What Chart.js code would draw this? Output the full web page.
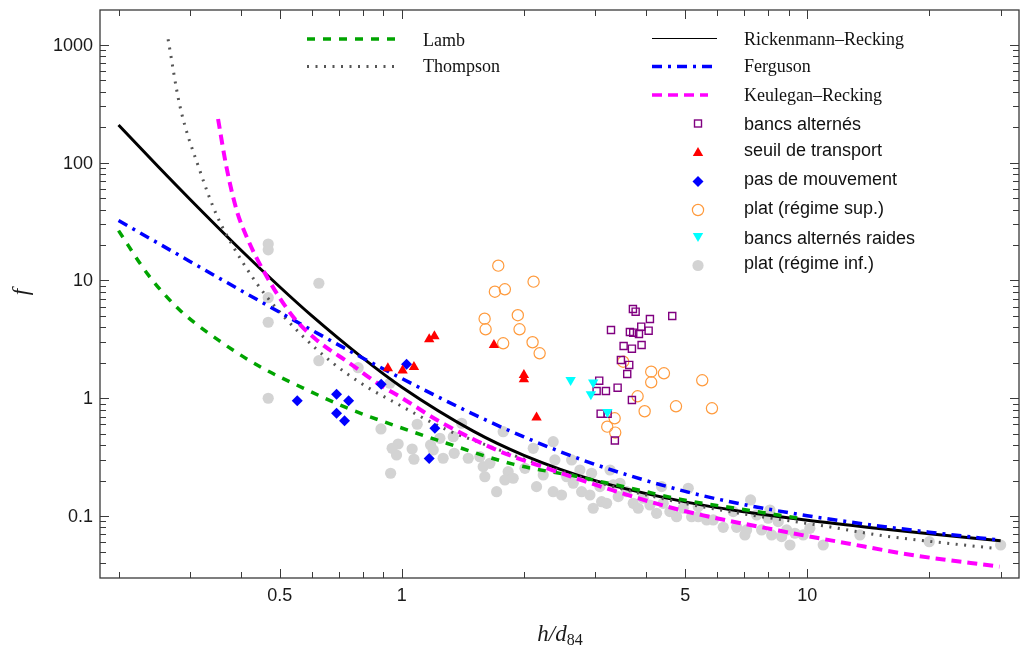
<!DOCTYPE html>
<html>
<head>
<meta charset="utf-8">
<script src="https://cdn.jsdelivr.net/npm/chart.js@4.4.0/dist/chart.umd.min.js"></script>
<style>
  html, body { margin: 0; padding: 0; background: #ffffff; }
  #wrap { width: 1020px; height: 650px; position: relative; }
  canvas { display: block; }
</style>
</head>
<body>
<div id="wrap"><canvas id="c" width="1020" height="650"></canvas></div>
<script>
// ---------- curves (h/d84 -> f) ----------
const rrX   = [0.2, 0.25, 0.3, 0.4, 0.5, 0.6, 0.8, 1, 1.5, 2, 3, 5, 7, 10, 15, 20, 30];
const rrY   = [209, 93.3, 49.0, 18.25, 8.80, 5.00, 2.20, 1.24, 0.526, 0.328, 0.200, 0.132, 0.1086, 0.0920, 0.0785, 0.0708, 0.0618];
const fgX   = [0.2, 0.25, 0.3, 0.4, 0.5, 0.6, 0.8, 1, 1.5, 2, 3, 5, 7, 10, 15, 20, 30];
const fgY   = [32.3, 20.8, 14.5, 8.26, 5.36, 3.78, 2.20, 1.47, 0.734, 0.470, 0.274, 0.162, 0.125, 0.1007, 0.0825, 0.0730, 0.0624];
const lambX = [0.2, 0.237, 0.283, 0.352, 0.446, 0.571, 0.737, 0.952, 1.29, 1.88, 2.75, 4.0, 4.85, 7.09, 9.85];
const lambY = [26.5, 11.1, 5.62, 3.13, 1.86, 1.22, 0.82, 0.593, 0.415, 0.276, 0.214, 0.161, 0.139, 0.1126, 0.094];
const thX   = [0.265, 0.283, 0.318, 0.349, 0.3835, 0.4217, 0.464, 0.56, 0.677, 0.818, 0.95, 1.29, 1.557, 2.03, 3.32, 5, 7, 11, 15.4, 20.5, 29.5];
const thY   = [1115, 310, 84, 36, 19.4, 11.5, 7.29, 3.56, 1.98, 1.254, 0.94, 0.54, 0.42, 0.30, 0.178, 0.128, 0.104, 0.0824, 0.068, 0.0605, 0.053];
const krX   = [0.352, 0.369, 0.391, 0.414, 0.464, 0.539, 0.616, 0.744, 0.882, 0.989, 1.241, 1.712, 2.275, 3.32, 4.85, 8.56, 12.5, 18.3, 29.8];
const krY   = [235, 92.5, 39.7, 23.5, 10.8, 4.93, 3.13, 1.98, 1.30, 1.03, 0.633, 0.364, 0.255, 0.165, 0.1127, 0.075, 0.0588, 0.0465, 0.0372];

// ---------- measured points ----------
const baX = [3.715, 3.773, 4.092, 4.645, 3.28, 3.652, 3.722, 3.845, 3.895, 4.062, 3.524, 3.694, 3.903, 3.47, 3.638, 3.597, 3.068, 3.023, 3.187, 3.406, 3.694, 3.093, 3.218, 3.353];
const baY = [5.73, 5.435, 4.71, 4.995, 3.80, 3.655, 3.606, 3.515, 4.054, 3.749, 2.78, 2.636, 2.835, 2.114, 1.918, 1.608, 1.411, 1.153, 1.153, 1.23, 0.967, 0.74, 0.74, 0.438];
const stX = [0.9235, 1.004, 1.071, 1.168, 1.203, 1.687, 2.0, 2.0, 2.149];
const stY = [1.798, 1.722, 1.844, 3.168, 3.36, 2.835, 1.577, 1.45, 0.687];
const pmX = [0.552, 0.690, 0.739, 0.690, 0.722, 1.027, 0.889, 1.206, 1.168];
const pmY = [0.954, 1.081, 0.954, 0.746, 0.645, 1.944, 1.317, 0.556, 0.308];
const psX = [1.729, 2.113, 1.696, 1.795, 1.600, 1.932, 1.609, 1.951, 1.778, 2.101, 2.187, 3.516, 4.122, 4.431, 4.122, 5.508, 3.815, 4.745, 5.821, 3.971, 3.349, 3.211, 3.36];
const psY = [13.36, 9.77, 8.03, 8.42, 4.74, 5.07, 3.85, 3.85, 2.93, 2.99, 2.41, 2.045, 1.682, 1.63, 1.367, 1.422, 1.04, 0.855, 0.822, 0.776, 0.676, 0.574, 0.511];
const brX = [2.608, 2.965, 2.926, 3.214];
const brY = [1.43, 1.362, 1.083, 0.765];
const piX = [0.468, 0.468, 0.624, 0.468, 0.468, 0.624, 0.468, 0.780, 0.934, 0.888, 1.091, 0.979, 0.946, 0.970, 1.060, 1.071, 0.938, 1.177, 1.241, 1.339,
             1.404, 1.346, 1.264, 1.458, 1.195, 1.557, 1.587, 1.649, 1.602, 1.713, 1.778, 1.829, 1.795, 1.882, 2.012, 2.109, 2.149, 2.232, 2.362, 2.385,
             2.362, 2.477, 2.55, 2.623, 2.647, 2.749, 2.776, 2.91, 2.938, 2.965, 3.08, 3.11, 3.20, 3.262, 3.322, 3.451, 3.418, 3.584, 3.722, 3.828,
             3.94, 4.092, 4.25, 4.373, 4.412, 4.583, 4.761, 4.943, 5.087, 5.186, 5.384, 5.384, 5.647, 5.863, 6.205, 6.568, 6.697, 7.087, 7.019, 7.249,
             7.502, 7.718, 8.013, 8.091, 8.17, 8.483, 8.647, 8.897, 9.065, 9.327, 9.775, 10.15, 10.95, 13.49, 20.0, 30.0];
const piY = [20.4, 18.2, 9.47, 7.14, 4.42, 2.085, 1.0, 1.819, 1.341, 0.549, 0.602, 0.409, 0.376, 0.330, 0.371, 0.3035, 0.231, 0.4015, 0.4575, 0.472,
             0.614, 0.341, 0.3095, 0.3095, 0.364, 0.319, 0.2627, 0.2806, 0.216, 0.161, 0.5205, 0.238, 0.2025, 0.2094, 0.2545, 0.376, 0.1777, 0.2234, 0.428, 0.2995,
             0.161, 0.151, 0.216, 0.2995, 0.19, 0.246, 0.161, 0.151, 0.231, 0.1165, 0.1777, 0.1325, 0.1284, 0.246, 0.1837, 0.19, 0.1462, 0.161, 0.1284, 0.1165,
             0.1416, 0.1242, 0.1056, 0.1777, 0.1284, 0.109, 0.0988, 0.1165, 0.172, 0.0988, 0.1202, 0.0988, 0.0927, 0.0927, 0.0803, 0.109, 0.0803, 0.0762, 0.0691, 0.137,
             0.1022, 0.0762, 0.0958, 0.1126, 0.0691, 0.0897, 0.0669, 0.0762, 0.0568, 0.0715, 0.0691, 0.0787, 0.0568, 0.0691, 0.0606, 0.0568];

// ---------- ticks & labels ----------
const xMajorTicks = [0.5, 1, 5, 10];
const xTickLabels = ['0.5', '1', '5', '10'];
const xMinorTicks = [0.2, 0.3, 0.4, 0.6, 0.7, 0.8, 0.9, 2, 3, 4, 6, 7, 8, 9, 20, 30];
const yMajorTicks = [0.1, 1, 10, 100, 1000];
const yTickLabels = ['0.1', '1', '10', '100', '1000'];
const yMinorTicks = [0.04, 0.05, 0.06, 0.07, 0.08, 0.09, 0.2, 0.3, 0.4, 0.5, 0.6, 0.7, 0.8, 0.9,
                     2, 3, 4, 5, 6, 7, 8, 9, 20, 30, 40, 50, 60, 70, 80, 90, 200, 300, 400, 500, 600, 700, 800, 900];
const lineLabels = ['Lamb', 'Thompson', 'Rickenmann–Recking', 'Ferguson', 'Keulegan–Recking'];
const markerLabels = ['bancs alternés', 'seuil de transport', 'pas de mouvement', 'plat (régime sup.)', 'bancs alternés raides', 'plat (régime inf.)'];

const pts = (xs, ys) => xs.map((v, i) => ({ x: v, y: ys[i] }));

const C = {
  lamb: '#00a400', thompson: '#555555', rr: '#000000', ferg: '#0000ff', keul: '#ff00ff',
  purple: '#800080', red: '#ff0000', blue: '#0000ff', orange: '#ff9a3c', cyan: '#00ffff', gray: '#d3d3d3'
};
const lineStyle = {
  lamb: { color: C.lamb, width: 3.5, dash: [8, 8] },
  thompson: { color: C.thompson, width: 3, dash: [2, 6.5] },
  rr: { color: C.rr, width: 3, dash: [] },
  ferg: { color: C.ferg, width: 3.5, dash: [10, 6, 3, 6] },
  keul: { color: C.keul, width: 4, dash: [10, 6] }
};

function lineDS(label, xs, ys, st, order) {
  return {
    label, data: pts(xs, ys), showLine: true, borderColor: st.color, borderWidth: st.width,
    borderDash: st.dash, pointRadius: 0, cubicInterpolationMode: 'monotone', fill: false, order
  };
}

const datasets = [
  { label: markerLabels[5], data: pts(piX, piY), pointStyle: 'circle', pointRadius: 5.6, backgroundColor: C.gray, borderWidth: 0, order: 20 },
  lineDS(lineLabels[0], lambX, lambY, lineStyle.lamb, 10),
  lineDS(lineLabels[1], thX, thY, lineStyle.thompson, 11),
  lineDS(lineLabels[2], rrX, rrY, lineStyle.rr, 12),
  lineDS(lineLabels[3], fgX, fgY, lineStyle.ferg, 9),
  lineDS(lineLabels[4], krX, krY, lineStyle.keul, 8),
  { label: markerLabels[0], data: pts(baX, baY), pointStyle: 'rect', pointRadius: 5, backgroundColor: 'rgba(0,0,0,0)', borderColor: C.purple, borderWidth: 1.4, order: 3 },
  { label: markerLabels[1], data: pts(stX, stY), pointStyle: 'triangle', pointRadius: 6, backgroundColor: C.red, borderColor: C.red, borderWidth: 0, order: 2 },
  { label: markerLabels[2], data: pts(pmX, pmY), pointStyle: 'rectRot', pointRadius: 5.5, backgroundColor: C.blue, borderColor: C.blue, borderWidth: 0, order: 2 },
  { label: markerLabels[3], data: pts(psX, psY), pointStyle: 'circle', pointRadius: 5.6, backgroundColor: 'rgba(0,0,0,0)', borderColor: C.orange, borderWidth: 1.2, order: 4 },
  { label: markerLabels[4], data: pts(brX, brY), pointStyle: 'triangle', pointRotation: 180, pointRadius: 6, backgroundColor: C.cyan, borderColor: C.cyan, borderWidth: 0, order: 1 }
];

function drawMarker(ctx, kind, x, y) {
  ctx.save();
  ctx.setLineDash([]);
  if (kind === 0) { ctx.strokeStyle = C.purple; ctx.lineWidth = 1.4; ctx.strokeRect(x - 3.5, y - 3.5, 7, 7); }
  else if (kind === 1) { ctx.fillStyle = C.red; ctx.beginPath(); const r = 6, cy = y + 1.5; ctx.moveTo(x, cy - r); ctx.lineTo(x + r * 0.866, cy + r / 2); ctx.lineTo(x - r * 0.866, cy + r / 2); ctx.closePath(); ctx.fill(); }
  else if (kind === 2) { ctx.fillStyle = C.blue; ctx.beginPath(); const r = 5.5; ctx.moveTo(x, y - r); ctx.lineTo(x + r, y); ctx.lineTo(x, y + r); ctx.lineTo(x - r, y); ctx.closePath(); ctx.fill(); }
  else if (kind === 3) { ctx.strokeStyle = C.orange; ctx.lineWidth = 1.2; ctx.beginPath(); ctx.arc(x, y, 5.6, 0, Math.PI * 2); ctx.stroke(); }
  else if (kind === 4) { ctx.fillStyle = C.cyan; ctx.beginPath(); const r = 6, cy = y - 1.5; ctx.moveTo(x, cy + r); ctx.lineTo(x + r * 0.866, cy - r / 2); ctx.lineTo(x - r * 0.866, cy - r / 2); ctx.closePath(); ctx.fill(); }
  else { ctx.fillStyle = C.gray; ctx.beginPath(); ctx.arc(x, y, 5.6, 0, Math.PI * 2); ctx.fill(); }
  ctx.restore();
}

const framePlugin = {
  id: 'frame',
  afterDraw(chart) {
    const { ctx, chartArea: a, scales: { x, y } } = chart;
    ctx.save();
    // frame
    ctx.strokeStyle = '#3a3a3a';
    ctx.lineWidth = 1.3;
    ctx.strokeRect(a.left, a.top, a.right - a.left, a.bottom - a.top);
    // ticks (inward)
    ctx.lineWidth = 1;
    ctx.strokeStyle = '#3a3a3a';
    const xt = (v, len) => {
      const p = Math.round(x.getPixelForValue(v)) + 0.5;
      if (p < a.left || p > a.right) return;
      ctx.beginPath(); ctx.moveTo(p, a.bottom); ctx.lineTo(p, a.bottom - len);
      ctx.moveTo(p, a.top); ctx.lineTo(p, a.top + len); ctx.stroke();
    };
    const yt = (v, len) => {
      const p = Math.round(y.getPixelForValue(v)) + 0.5;
      if (p < a.top || p > a.bottom - 1) return;
      ctx.beginPath(); ctx.moveTo(a.left, p); ctx.lineTo(a.left + len, p);
      ctx.moveTo(a.right, p); ctx.lineTo(a.right - len, p); ctx.stroke();
    };
    xMajorTicks.forEach(v => xt(v, 9));
    xMinorTicks.forEach(v => xt(v, 6));
    yMajorTicks.forEach(v => yt(v, 9));
    yMinorTicks.forEach(v => yt(v, 6));
    // tick labels
    ctx.fillStyle = '#1a1a1a';
    ctx.font = '18px "Liberation Sans", Arial, sans-serif';
    ctx.textAlign = 'center'; ctx.textBaseline = 'middle';
    xMajorTicks.forEach((v, i) => ctx.fillText(xTickLabels[i], x.getPixelForValue(v), 596));
    ctx.textAlign = 'right';
    yMajorTicks.forEach((v, i) => ctx.fillText(yTickLabels[i], 93, y.getPixelForValue(v) + 1));
    // axis titles
    ctx.textBaseline = 'alphabetic';
    ctx.textAlign = 'left';
    ctx.font = 'italic 23px "Liberation Serif", "Times New Roman", serif';
    const t1 = 'h/d';
    const w1 = ctx.measureText(t1).width;
    ctx.font = '16px "Liberation Serif", "Times New Roman", serif';
    const w2 = ctx.measureText('84').width;
    const sx = 560 - (w1 + w2) / 2;
    ctx.font = 'italic 23px "Liberation Serif", "Times New Roman", serif';
    ctx.fillText(t1, sx, 641);
    ctx.font = '16px "Liberation Serif", "Times New Roman", serif';
    ctx.fillText('84', sx + w1, 645);
    ctx.save();
    ctx.translate(28, 292);
    ctx.rotate(-Math.PI / 2);
    ctx.textAlign = 'center';
    ctx.font = 'italic 23px "Liberation Serif", "Times New Roman", serif';
    ctx.fillText('f', 0, 0);
    ctx.restore();

    // legend: lines
    const legLines = [
      { st: lineStyle.lamb, x0: 307, x1: 397, y: 39, tx: 423, ty: 45.5, w: 3.5 },
      { st: lineStyle.thompson, x0: 307, x1: 397, y: 66.5, tx: 423, ty: 71.5, w: 3 },
      { st: lineStyle.rr, x0: 652, x1: 717, y: 38.5, tx: 744, ty: 45, w: 1.2 },
      { st: lineStyle.ferg, x0: 652, x1: 717, y: 66.5, tx: 744, ty: 71.5, w: 3.5 },
      { st: lineStyle.keul, x0: 652, x1: 708, y: 95, tx: 744, ty: 101, w: 3.5 }
    ];
    legLines.forEach((e, i) => {
      ctx.save();
      ctx.strokeStyle = e.st.color;
      ctx.lineWidth = e.w;
      ctx.setLineDash(e.st.dash);
      ctx.beginPath(); ctx.moveTo(e.x0, e.y); ctx.lineTo(e.x1, e.y); ctx.stroke();
      ctx.restore();
      ctx.fillStyle = '#111';
      ctx.font = '18px "Liberation Serif", "Times New Roman", serif';
      ctx.textAlign = 'left'; ctx.textBaseline = 'alphabetic';
      ctx.fillText(lineLabels[i], e.tx, e.ty);
    });
    // legend: markers
    const mY = [123.5, 151.5, 181.5, 210, 237.5, 265.5];
    const tY = [129.5, 155.5, 185, 213.5, 243.5, 269];
    markerLabels.forEach((lab, i) => {
      drawMarker(ctx, i, 698, mY[i]);
      ctx.fillStyle = '#111';
      ctx.font = '18px "Liberation Sans", Arial, sans-serif';
      ctx.textAlign = 'left'; ctx.textBaseline = 'alphabetic';
      ctx.fillText(lab, 744, tY[i]);
    });
    ctx.restore();
  }
};

new Chart(document.getElementById('c'), {
  type: 'scatter',
  data: { datasets },
  options: {
    responsive: false,
    animation: false,
    devicePixelRatio: 1,
    events: [],
    layout: { autoPadding: false, padding: { left: 100, right: 1, top: 10, bottom: 72 } },
    scales: {
      x: { type: 'logarithmic', min: 0.18, max: 33.3, display: false },
      y: { type: 'logarithmic', min: 0.0298, max: 1978, display: false }
    },
    plugins: { legend: { display: false }, tooltip: { enabled: false } }
  },
  plugins: [framePlugin]
});
</script>
</body>
</html>
